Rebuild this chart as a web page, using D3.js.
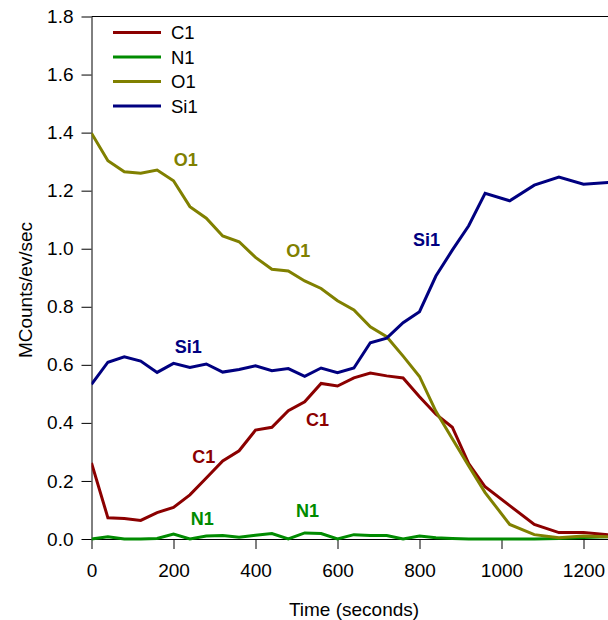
<!DOCTYPE html>
<html>
<head>
<meta charset="utf-8">
<script src="https://cdn.jsdelivr.net/npm/d3@7/dist/d3.min.js"></script>
<style>
  html, body { margin: 0; padding: 0; background: #fff; }
  svg { display: block; font-family: "Liberation Sans", Arial, Helvetica, sans-serif; }
</style>
</head>
<body>
<svg id="chart" width="608" height="620"></svg>
<script>
// Sputter time (s) of each acquisition
const times = [0, 40, 80, 120, 160, 200, 240, 280, 320, 360, 400, 440, 480, 520, 560, 600,
  640, 680, 720, 760, 800, 840, 880, 920, 960, 1020, 1080, 1140, 1200, 1260];

// Peak intensities, MCounts/ev/sec
const c1 = [0.262, 0.073, 0.071, 0.064, 0.091, 0.109, 0.152, 0.210, 0.269, 0.304, 0.375, 0.385,
  0.442, 0.473, 0.536, 0.527, 0.555, 0.572, 0.562, 0.555, 0.490, 0.430, 0.385, 0.260, 0.180,
  0.115, 0.050, 0.022, 0.022, 0.015];
const n1 = [0.000, 0.008, 0.000, 0.000, 0.002, 0.017, 0.000, 0.010, 0.012, 0.006, 0.013, 0.019,
  0.000, 0.021, 0.019, 0.000, 0.015, 0.012, 0.012, 0.000, 0.010, 0.004, 0.002, 0.000, 0.000,
  0.000, 0.000, 0.002, 0.005, 0.008];
const o1 = [1.398, 1.303, 1.265, 1.260, 1.271, 1.234, 1.145, 1.105, 1.044, 1.024, 0.970, 0.929,
  0.923, 0.889, 0.863, 0.821, 0.789, 0.731, 0.697, 0.630, 0.560, 0.440, 0.345, 0.252, 0.160,
  0.050, 0.015, 0.004, 0.010, 0.008];
const si1 = [0.533, 0.609, 0.628, 0.613, 0.574, 0.605, 0.591, 0.603, 0.575, 0.584, 0.597, 0.580,
  0.587, 0.560, 0.589, 0.573, 0.589, 0.676, 0.692, 0.745, 0.783, 0.906, 0.995, 1.079, 1.191,
  1.165, 1.219, 1.247, 1.222, 1.228];

const seriesNames = ["C1", "N1", "O1", "Si1"];
const seriesValues = [c1, n1, o1, si1];
const seriesColors = ["#8b0000", "#008b00", "#808000", "#000080"];

const xTicks = [0, 200, 400, 600, 800, 1000, 1200];
const yTicks = [0, 0.2, 0.4, 0.6, 0.8, 1.0, 1.2, 1.4, 1.6, 1.8];

// In-plot peak labels: [series index, time, value] of the label baseline centre
const peakLabels = [
  [2, 230, 1.285], [2, 504, 0.971],
  [3, 236, 0.641], [3, 817, 1.009],
  [0, 274, 0.263], [0, 551, 0.390],
  [1, 270, 0.048], [1, 527, 0.075]
];

const svg = d3.select("#chart");
const x = d3.scaleLinear().domain([0, 1280]).range([91.5, 616.3]);
const y = d3.scaleLinear().domain([0, 1.8]).range([539, 16.5]);

svg.append("defs").append("clipPath").attr("id", "plot")
  .append("rect").attr("x", x(0)).attr("y", y(1.8) - 2)
  .attr("width", x(1280) - x(0)).attr("height", y(0) - y(1.8) + 4);

// Frame top edge
svg.append("line")
  .attr("x1", x(0)).attr("x2", x(1280))
  .attr("y1", y(1.8)).attr("y2", y(1.8))
  .attr("stroke", "#000").attr("stroke-width", 1);

const xAxis = svg.append("g")
  .attr("transform", `translate(0,${y(0)})`)
  .call(d3.axisBottom(x).tickValues(xTicks).tickFormat(d3.format("d"))
    .tickSize(10).tickPadding(15).tickSizeOuter(0));
const yAxis = svg.append("g")
  .attr("transform", `translate(${x(0)},0)`)
  .call(d3.axisLeft(y).tickValues(yTicks).tickFormat(d3.format(".1f"))
    .tickSize(10).tickPadding(8).tickSizeOuter(0));

[xAxis, yAxis].forEach(g => {
  g.selectAll("text").attr("font-size", 19).attr("fill", "#000")
    .attr("font-family", "Liberation Sans, Arial, sans-serif");
  g.selectAll("line, path").attr("stroke", "#000");
});

// Axis titles
svg.append("text")
  .attr("x", 354).attr("y", 616)
  .attr("text-anchor", "middle").attr("font-size", 19)
  .text("Time (seconds)");
svg.append("text")
  .attr("transform", "translate(32,290) rotate(-90)")
  .attr("text-anchor", "middle").attr("font-size", 19)
  .text("MCounts/ev/sec");

// Series lines
const line = d3.line().x((d, i) => x(times[i])).y(d => y(d));
const plot = svg.append("g").attr("clip-path", "url(#plot)");
[1, 0, 2, 3].forEach(s => {
  plot.append("path")
    .datum(seriesValues[s])
    .attr("d", line)
    .attr("fill", "none")
    .attr("stroke", seriesColors[s])
    .attr("stroke-width", 3)
    .attr("stroke-linejoin", "miter");
});

// Peak labels
svg.append("g").selectAll("text")
  .data(peakLabels)
  .join("text")
  .attr("x", d => x(d[1]))
  .attr("y", d => y(d[2]))
  .attr("text-anchor", "middle")
  .attr("font-size", 18)
  .attr("font-weight", "bold")
  .attr("fill", d => seriesColors[d[0]])
  .text(d => seriesNames[d[0]]);

// Legend
const legend = svg.append("g").attr("transform", "translate(113,32.5)");
seriesNames.forEach((name, i) => {
  const row = legend.append("g").attr("transform", `translate(0,${i * 24.5})`);
  row.append("line").attr("x1", 0).attr("x2", 48).attr("y1", 0).attr("y2", 0)
    .attr("stroke", seriesColors[i]).attr("stroke-width", 3);
  row.append("text").attr("x", 58).attr("y", 0).attr("dy", "0.36em")
    .attr("font-size", 18.5).text(name);
});
</script>
</body>
</html>
